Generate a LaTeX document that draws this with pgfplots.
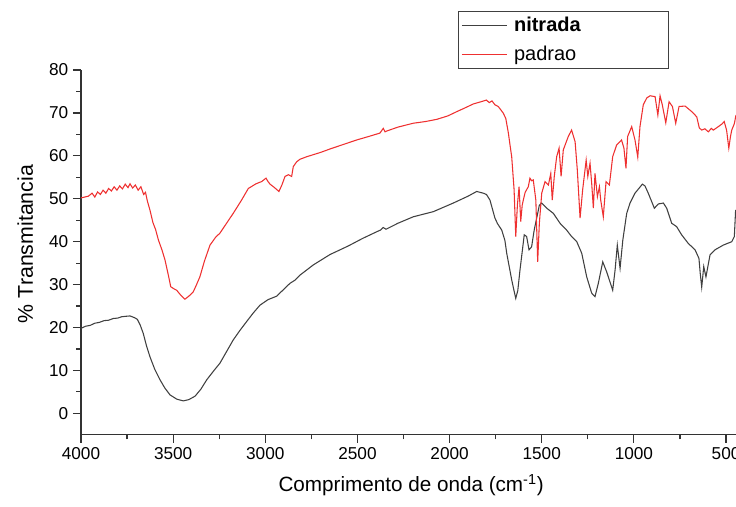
\documentclass[border=0pt]{standalone}
\usepackage{pgfplots}
\pgfplotsset{compat=1.18}
\usepackage{fontspec}
\setmainfont{Liberation Sans}
\definecolor{nitcol}{RGB}{64,64,64}
\definecolor{padcol}{RGB}{238,48,48}
\begin{document}
\begin{tikzpicture}
\path[use as bounding box] (-60.75pt,-54.15pt) rectangle (491.25pt,326.1pt);
\begin{axis}[
  scale only axis,
  width=491.25pt, height=273.6pt,
  at={(0,0)}, anchor=south west,
  x dir=reverse,
  xmin=446, xmax=4000, ymin=-5, ymax=80,
  axis x line*=bottom, axis y line*=left,
  axis line style={line width=0.9pt, color=black!80},
  every tick/.style={line width=0.9pt, color=black!80},
  tick align=outside,
  major tick length=6pt, minor tick length=3.5pt,
  xtick={500,1000,...,4000}, minor x tick num=1,
  ytick={0,10,...,80}, minor y tick num=1,
  /pgf/number format/assume math mode=true,
  /pgf/number format/1000 sep={},
  ticklabel style={font=\fontsize{12.9}{15}\selectfont},
  xlabel={Comprimento de onda (cm\textsuperscript{-1})},
  ylabel={\% Transmitancia},
  xlabel style={font=\fontsize{15.5}{18}\selectfont, at={(axis description cs:0.504,-0.156)}, anchor=base},
  ylabel style={font=\fontsize{16}{19}\selectfont, at={(axis description cs:-0.0733,0.523)}, anchor=base, rotate=0},
  legend style={at={(axis description cs:0.5756,1.163)}, anchor=north west,
    draw=black!75, line width=0.75pt, font=\fontsize{15}{18}\selectfont,
    inner xsep=2pt, inner ysep=2.7pt, cells={anchor=west}, row sep=5.25pt},
  legend image code/.code={\draw[#1, line width=1pt] (0pt,0pt) -- (33.75pt,0pt); \path (36.75pt,0pt);},
]
\addplot[color=nitcol, line width=0.8pt] coordinates {
(4000,19.8) (3975,20.3) (3950,20.5) (3925,21.0) (3900,21.2) (3875,21.6) (3850,21.7) (3825,22.1) (3800,22.2) (3780,22.5) (3760,22.6) (3734,22.7) (3710,22.3) (3694,21.9) (3678,20.5) (3662,18.6) (3645,15.8) (3626,13.2) (3600,10.3) (3571,7.8) (3545,5.9) (3517,4.3) (3480,3.3) (3445,2.9) (3415,3.2) (3381,4.0) (3350,5.6) (3318,7.8) (3280,9.9) (3246,11.7) (3210,14.4) (3174,17.1) (3138,19.3) (3101,21.4) (3065,23.4) (3029,25.2) (2985,26.5) (2938,27.3) (2900,28.9) (2866,30.3) (2840,31.0) (2812,32.2) (2739,34.6) (2649,37.0) (2550,39.0) (2470,40.8) (2396,42.3) (2375,42.7) (2360,43.3) (2345,42.9) (2280,44.3) (2197,45.8) (2088,47.0) (1980,49.0) (1900,50.6) (1853,51.7) (1817,51.3) (1800,51.0) (1781,49.7) (1754,45.5) (1740,44.2) (1717,42.7) (1700,40.3) (1690,37.3) (1663,31.1) (1650,28.5) (1641,26.8) (1630,28.6) (1618,33.4) (1605,38.0) (1595,41.6) (1582,41.2) (1569,38.1) (1555,38.8) (1541,42.7) (1522,46.6) (1513,48.5) (1500,49.0) (1473,47.8) (1437,46.6) (1401,44.3) (1365,42.7) (1338,41.2) (1310,40.0) (1283,37.3) (1256,31.8) (1229,28.0) (1211,27.2) (1193,30.3) (1169,35.3) (1148,33.0) (1115,28.7) (1102,33.4) (1090,39.2) (1075,33.8) (1060,40.4) (1039,46.6) (1021,49.0) (994,51.3) (954,53.4) (940,53.0) (922,51.3) (889,47.8) (867,48.8) (840,49.0) (822,47.8) (795,44.3) (768,43.5) (741,41.6) (705,39.6) (668,38.1) (647,36.1) (640,32.6) (632,29.4) (621,34.2) (609,31.8) (587,36.9) (560,38.1) (515,39.2) (469,40.0) (455,41.2) (448,47.4)
};
\addlegendentry{\makebox[112pt][l]{\textbf{nitrada}}}
\addplot[color=padcol, line width=0.8pt] coordinates {
(4000,50.2) (3960,50.6) (3940,51.3) (3925,50.4) (3910,51.6) (3895,51.0) (3880,52.0) (3865,51.3) (3850,52.4) (3835,51.8) (3820,52.8) (3805,52.0) (3790,53.0) (3775,52.3) (3760,53.4) (3745,52.6) (3734,53.5) (3720,52.5) (3705,53.2) (3690,52.0) (3675,52.8) (3660,51.0) (3650,51.5) (3640,49.5) (3626,47.4) (3610,44.5) (3595,42.8) (3580,40.4) (3560,38.0) (3544,35.7) (3525,32.0) (3513,29.5) (3495,29.0) (3481,28.7) (3460,27.6) (3436,26.6) (3415,27.3) (3391,28.3) (3375,29.8) (3355,31.8) (3330,35.5) (3300,39.2) (3270,41.0) (3246,42.0) (3210,44.3) (3174,46.6) (3130,49.6) (3092,52.4) (3050,53.5) (3020,54.0) (2996,54.8) (2985,54.0) (2974,53.4) (2950,52.6) (2926,51.7) (2910,53.2) (2893,55.2) (2875,55.6) (2857,55.2) (2848,57.5) (2830,58.6) (2812,59.2) (2775,59.8) (2700,60.8) (2649,61.6) (2580,62.6) (2504,63.7) (2440,64.5) (2378,65.3) (2360,66.4) (2350,65.6) (2340,65.8) (2280,66.7) (2197,67.6) (2130,68.0) (2070,68.5) (2010,69.3) (1961,70.3) (1910,71.3) (1871,72.1) (1830,72.6) (1800,73.0) (1785,72.4) (1770,72.8) (1754,71.9) (1736,71.5) (1720,70.6) (1708,69.9) (1695,68.7) (1681,65.3) (1672,62.5) (1663,59.8) (1650,52.1) (1641,41.2) (1632,48.6) (1623,52.8) (1614,44.7) (1606,48.5) (1600,49.7) (1590,51.5) (1573,52.8) (1564,54.8) (1555,54.2) (1546,54.4) (1532,49.7) (1522,35.3) (1513,44.3) (1500,51.3) (1482,54.0) (1464,53.2) (1451,55.9) (1443,49.7) (1432,55.2) (1419,59.8) (1406,61.8) (1395,55.2) (1383,61.4) (1356,64.5) (1338,66.0) (1319,63.3) (1307,56.7) (1292,45.5) (1278,52.1) (1259,59.0) (1250,55.2) (1238,58.3) (1229,53.6) (1220,47.8) (1211,55.9) (1198,50.5) (1187,52.8) (1180,49.7) (1166,45.8) (1151,54.0) (1133,53.2) (1115,59.8) (1094,62.5) (1067,63.7) (1054,61.8) (1043,57.1) (1034,64.5) (1012,66.8) (994,63.7) (979,59.7) (967,66.8) (949,71.9) (930,73.5) (912,74.0) (885,73.8) (870,69.5) (858,74.0) (846,71.9) (827,67.7) (809,72.6) (791,71.5) (773,67.6) (755,71.5) (722,71.6) (686,70.3) (659,69.1) (645,66.5) (632,66.0) (615,66.3) (596,65.6) (580,66.4) (569,66.0) (542,66.8) (520,67.5) (510,68.0) (497,66.0) (485,61.8) (476,64.5) (469,66.0) (455,67.5) (446,69.5)
};
\addlegendentry{\makebox[112pt][l]{padrao}}
\end{axis}
\end{tikzpicture}
\end{document}
